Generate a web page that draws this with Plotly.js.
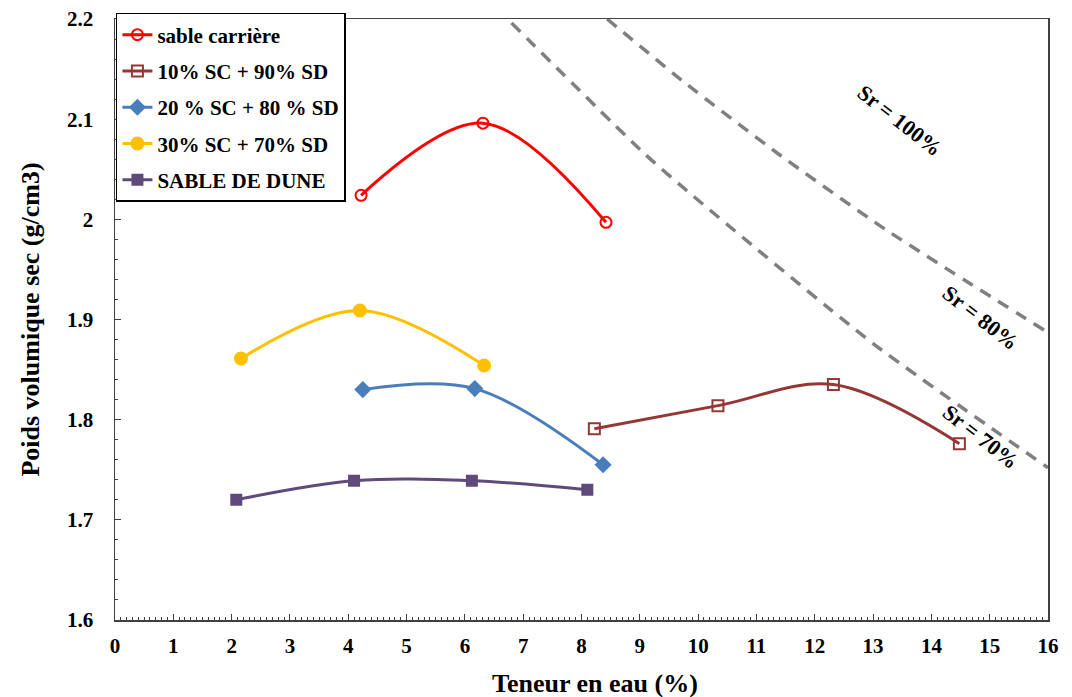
<!DOCTYPE html>
<html>
<head>
<meta charset="utf-8">
<script src="https://cdn.plot.ly/plotly-3.0.1.min.js"></script>
<style>html,body{margin:0;padding:0;background:#fff;}#chart{width:1072px;height:697px;}</style>
</head>
<body>
<div id="chart"></div>
<script>
// Data
var carriereX = [4.22, 6.31, 8.42];
var carriereY = [2.024, 2.096, 1.997];

var sc10X = [8.22, 10.34, 12.32, 14.48];
var sc10Y = [1.791, 1.814, 1.835, 1.776];

var sc20X = [4.25, 6.17, 8.37];
var sc20Y = [1.830, 1.831, 1.755];

var sc30X = [2.16, 4.20, 6.33];
var sc30Y = [1.861, 1.909, 1.854];

var duneX = [2.08, 4.10, 6.12, 8.10];
var duneY = [1.720, 1.739, 1.739, 1.730];

// Saturation lines
var sr70X = [6.8, 9.09, 9.9, 13.0, 16.0];
var sr70Y = [2.196, 2.065, 2.024, 1.876, 1.752];
var sr80X = [8.44, 9.78, 11.36, 13.21, 16.0];
var sr80Y = [2.2, 2.136, 2.066, 1.990, 1.887];

var seriesNames = ["sable carrière", "10% SC + 90% SD", "20 % SC + 80 % SD", "30% SC + 70% SD", "SABLE DE DUNE"];
var srLabels = ["Sr = 100%", "Sr = 80%", "Sr = 70%"];
var srLabelX = [13.46, 14.84, 14.84];
var srLabelY = [2.099, 1.902, 1.783];
var xTitle = "Teneur en eau (%)";
var yTitle = "Poids volumique sec (g/cm3)";

var F = "Liberation Serif, Times New Roman, serif";

function series(x, y, name, color, symbol, size, grp) {
  return {
    x: x, y: y, name: name, type: 'scatter', mode: 'lines+markers',
    legendgroup: grp,
    line: {color: color, width: 3, shape: 'spline', smoothing: 1},
    marker: {color: color, symbol: symbol, size: size, line: {color: color, width: 2}}
  };
}

var traces = [
  {x: sr70X, y: sr70Y, type: 'scatter', mode: 'lines', showlegend: false, hoverinfo: 'skip',
   line: {color: '#808080', width: 3.5, dash: '12px,9px', shape: 'spline', smoothing: 0.6}},
  {x: sr80X, y: sr80Y, type: 'scatter', mode: 'lines', showlegend: false, hoverinfo: 'skip',
   line: {color: '#808080', width: 3.5, dash: '12px,9px', shape: 'spline', smoothing: 0.6}},
  series(carriereX, carriereY, seriesNames[0], '#FF0000', 'circle-open', 11, 'a'),
  series(sc10X, sc10Y, seriesNames[1], '#953735', 'square-open', 11, 'b'),
  series(sc20X, sc20Y, seriesNames[2], '#4A7EBB', 'diamond', 11, 'c'),
  series(sc30X, sc30Y, seriesNames[3], '#FFC000', 'circle', 12, 'd'),
  series(duneX, duneY, seriesNames[4], '#604A7B', 'square', 10, 'e')
];

var annotations = srLabels.map(function (t, i) {
  return {x: srLabelX[i], y: srLabelY[i], xref: 'x', yref: 'y', text: t,
    showarrow: false, textangle: 38, font: {family: F, size: 22, weight: 'bold', color: '#000'}};
});
annotations.push({x: 0.514, y: -0.105, xref: 'paper', yref: 'paper', text: xTitle,
  showarrow: false, xanchor: 'center', yanchor: 'middle',
  font: {family: F, size: 26, weight: 'bold', color: '#000'}});

var layout = {
  width: 1072, height: 697,
  margin: {l: 115, r: 24, t: 19, b: 77, pad: 0},
  paper_bgcolor: '#fff', plot_bgcolor: '#fff',
  font: {family: F, color: '#000'},
  showlegend: true,
  legend: {x: 0.001, y: 1.01, xanchor: 'left', yanchor: 'top', bgcolor: '#fff',
    bordercolor: '#000', borderwidth: 1.5, tracegroupgap: 6,
    font: {family: F, size: 21, weight: 'bold', color: '#000'}, itemwidth: 30, traceorder: 'grouped'},
  xaxis: {
    range: [0, 16], dtick: 1, tick0: 0, showgrid: false, zeroline: false,
    showline: true, linecolor: '#404040', linewidth: 1.5, mirror: true,
    ticks: 'inside', ticklen: 6, tickcolor: '#404040', tickwidth: 1,
    minor: {dtick: 0.1, ticks: 'inside', ticklen: 3, tickcolor: '#404040', tickwidth: 1, showgrid: false},
    tickfont: {family: F, size: 21, weight: 'bold', color: '#000'}, ticklabelstandoff: 6
  },
  yaxis: {
    range: [1.6, 2.2], dtick: 0.1, tick0: 1.6, showgrid: false, zeroline: false,
    showline: true, linecolor: '#404040', linewidth: 1.5, mirror: true,
    ticks: 'inside', ticklen: 6, tickcolor: '#404040', tickwidth: 1,
    minor: {dtick: 0.02, ticks: 'inside', ticklen: 3, tickcolor: '#404040', tickwidth: 1, showgrid: false},
    tickfont: {family: F, size: 21, weight: 'bold', color: '#000'}, ticklabelstandoff: 16,
    title: {text: yTitle, font: {family: F, size: 26, weight: 'bold', color: '#000'}, standoff: 20}
  },
  annotations: annotations
};

Plotly.newPlot('chart', traces, layout, {displayModeBar: false, staticPlot: true});
</script>
</body>
</html>
